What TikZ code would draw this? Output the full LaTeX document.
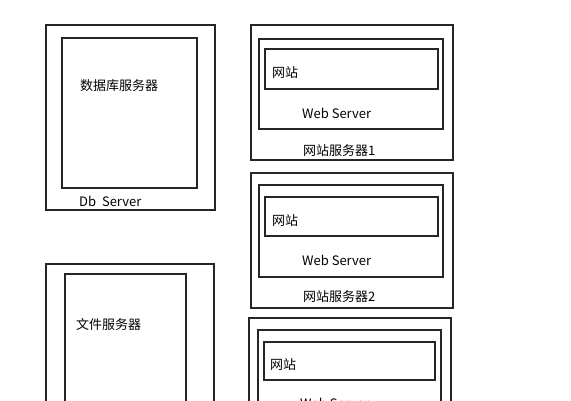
\documentclass[tikz,border=0pt]{standalone}
\usepackage{fontspec}
\setmainfont{Noto Sans CJK SC}
\usepackage{tikz}
\usetikzlibrary{positioning}

\tikzset{
  box/.style={draw=black!85, line width=1.7pt, inner sep=0pt, anchor=north west},
  lbl/.style={anchor=west, inner sep=0pt, font=\fontsize{13}{15}\selectfont}
}

\begin{document}
\begin{tikzpicture}[x=1pt,y=-1pt]
\useasboundingbox (0,0) rectangle (571,400);
\clip (0,0) rectangle (571,400);

% database server
\node[box, minimum width=169, minimum height=185] (dbOuter) at (45,24) {};
\node[box, minimum width=135, minimum height=150] (dbInner) at (61,37) {};
\node[lbl] (dbName) at (80,86) {数据库服务器};
\node[lbl] (dbLabel) at (79,201) {Db\ \ Server};

% file server
\node[box, minimum width=168, minimum height=185] (fileOuter) at (45,263) {};
\node[box, minimum width=121, minimum height=165] (fileInner) at (64,273) {};
\node[lbl] (fileName) at (76,325) {文件服务器};

% web server 1
\node[box, minimum width=202, minimum height=135] (webOuterA) at (250,24) {};
\node[box, minimum width=184, minimum height=90] (webMidA) at (258,38) {};
\node[box, minimum width=173, minimum height=40] (siteA) at (264,48) {};
\node[lbl] (siteNameA) at (272,73) {网站};
\node[lbl] (webLabelA) at (302,113) {Web Server};
\node[lbl] (webNameA) at (303,151) {网站服务器1};

% web server 2
\node[box, minimum width=202, minimum height=135] (webOuterB) at (250,172) {};
\node[box, minimum width=184, minimum height=92] (webMidB) at (258,184) {};
\node[box, minimum width=173, minimum height=39] (siteB) at (264,196) {};
\node[lbl] (siteNameB) at (272,221) {网站};
\node[lbl] (webLabelB) at (302,260) {Web Server};
\node[lbl] (webNameB) at (303,297) {网站服务器2};

% web server 3
\node[box, minimum width=202, minimum height=135] (webOuterC) at (248,317) {};
\node[box, minimum width=183, minimum height=92] (webMidC) at (257,329) {};
\node[box, minimum width=171, minimum height=38] (siteC) at (263,341) {};
\node[lbl] (siteNameC) at (270,365) {网站};
\node[lbl] (webLabelC) at (300,403) {Web Server};
\end{tikzpicture}
\end{document}
